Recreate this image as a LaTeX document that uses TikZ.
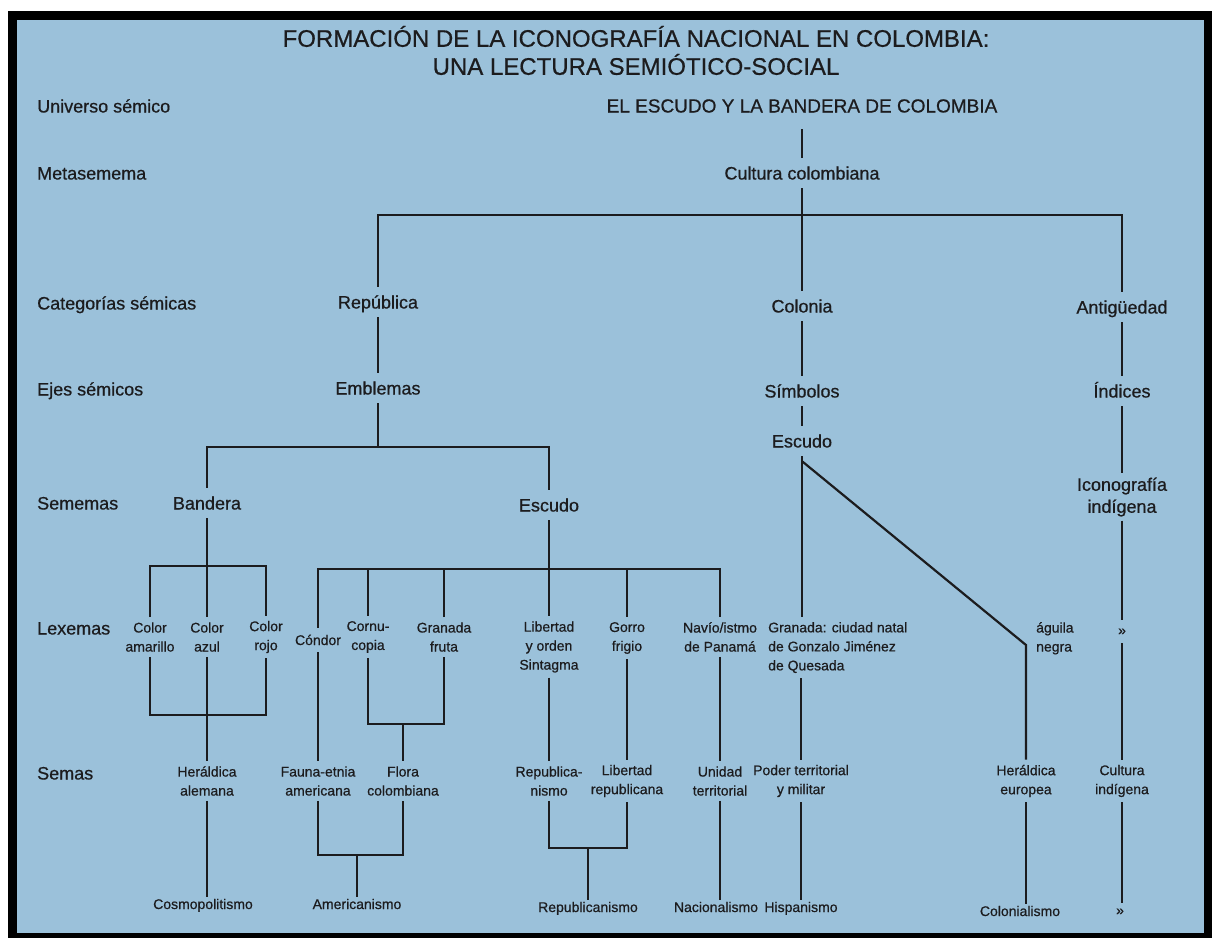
\documentclass[tikz,border=0pt]{standalone}
\usepackage{fontspec}
\setmainfont{Liberation Sans}[FakeBold=0.6]
\definecolor{fondo}{RGB}{155,193,218}
\definecolor{tinta}{RGB}{28,28,30}

\begin{document}
\begin{tikzpicture}[x=1pt,y=-1pt,
      nivel/.style={anchor=west,font=\fontsize{18}{22}\selectfont,text=tinta,
        text height=15pt,text depth=2pt,inner xsep=0pt},
      grande/.style={font=\fontsize{18}{22}\selectfont,text=tinta,
        text height=15pt,text depth=2pt,inner sep=6.5pt},
      bloque/.style={font=\fontsize{18}{22}\selectfont,text=tinta,align=center,inner sep=4pt},
      chico/.style={font=\fontsize{14}{19}\selectfont,text=tinta,align=center,inner sep=5pt},
      solo/.style={font=\fontsize{14}{19}\selectfont,text=tinta,
        text height=11.5pt,text depth=1.5pt,inner sep=5.5pt},
      hoja/.style={solo,inner sep=0pt},
      rama/.style={draw=tinta,line width=2.2pt}]

      \useasboundingbox (0,0) rectangle (1217,938);
      \fill[white] (0,0) rectangle (1217,938);
      \fill[black] (8,11) rectangle (1212,938);
      \fill[fondo] (17,20) rectangle (1204,933);

      \node[font=\fontsize{24}{28}\selectfont,text=tinta,align=center] (titulo) at (636,50.5)
        {FORMACIÓN DE LA ICONOGRAFÍA NACIONAL EN COLOMBIA:\\UNA LECTURA SEMIÓTICO-SOCIAL};

      % niveles
      \foreach \y/\t [count=\i] in {106/Universo sémico,173/Metasemema,303/Categorías sémicas,
          389/Ejes sémicos,503/Sememas,628/Lexemas,773/Semas}
        \node[nivel] (nivel\i) at (37,\y) {\t};

      \node[grande,font=\fontsize{19}{22}\selectfont] (raiz) at (802,106) {EL ESCUDO Y LA BANDERA DE COLOMBIA};
      \node[grande] (cultura) at (802,173) {Cultura colombiana};
      \coordinate (barra1) at (0,215);
      \node[grande] (republica) at (378,302) {República};
      \node[grande] (colonia) at (802,306) {Colonia};
      \node[grande] (antiguedad) at (1122,307) {Antigüedad};
      \node[grande] (emblemas) at (378,388) {Emblemas};
      \node[grande] (simbolos) at (802,391) {Símbolos};
      \node[grande] (indices) at (1122,391) {Índices};
      \node[grande] (escudoCol) at (802,441) {Escudo};
      \node[bloque] (iconografia) at (1122,497) {Iconografía\\indígena};
      \coordinate (barra2) at (0,447);
      \node[grande] (bandera) at (207,503) {Bandera};
      \node[grande] (escudoRep) at (549,505) {Escudo};

      % lexemas
      \coordinate (barra3) at (0,566);
      \coordinate (barra4) at (0,569);
      \node[chico] (amarillo) at (150,637) {Color\\amarillo};
      \node[chico] (azul) at (207,637) {Color\\azul};
      \node[chico] (rojo) at (266,637) {Color\\rojo};
      \node[solo] (condor) at (318,640) {Cóndor};
      \node[chico] (cornucopia) at (368,637) {Cornu-\\copia};
      \node[chico] (granada) at (444,637) {Granada\\fruta};
      \node[chico] (libertad) at (549,647) {Libertad\\y orden\\Sintagma};
      \node[chico] (gorro) at (627,638) {Gorro\\frigio};
      \node[chico] (navio) at (720,637) {Navío/istmo\\de Panamá};
      \node[chico,align=left,anchor=north west] (granadaCiudad) at (763,617)
        {Granada: ciudad natal\\de Gonzalo Jiménez\\de Quesada};
      \node[chico,align=left,anchor=north west] (aguila) at (1031,617) {águila\\negra};
      \node[solo,text height=7pt,text depth=0pt,inner sep=8pt] (comilla1) at (1122,631.5) {»};
      \coordinate (barra5) at (0,715);
      \coordinate (barra6) at (0,724);

      % semas
      \node[chico] (alemana) at (207,781) {Heráldica\\alemana};
      \node[chico] (fauna) at (318,781) {Fauna-etnia\\americana};
      \node[chico] (flora) at (403,781) {Flora\\colombiana};
      \node[chico] (republicanismoS) at (549,781) {Republica-\\nismo};
      \node[chico] (libertadRep) at (627,781) {Libertad\\republicana};
      \node[chico] (unidad) at (720,781) {Unidad\\territorial};
      \node[chico] (poder) at (801,781) {Poder territorial\\y militar};
      \node[chico] (europea) at (1026,781) {Heráldica\\europea};
      \node[chico] (culturaInd) at (1122,781) {Cultura\\indígena};
      \coordinate (barra7) at (0,855);
      \coordinate (barra8) at (0,848);

      \node[hoja] (cosmo) at (203,904) {Cosmopolitismo};
      \node[hoja] (americanismo) at (357,904) {Americanismo};
      \node[hoja] (republicanismo) at (588,907) {Republicanismo};
      \node[hoja] (nacionalismo) at (716,907) {Nacionalismo};
      \node[hoja] (hispanismo) at (801,907) {Hispanismo};
      \node[hoja] (colonialismo) at (1020,911) {Colonialismo};
      \node[hoja] (comilla2) at (1120,910) {»};

      % ramas superiores
      \draw[rama,shorten <=8pt] (raiz) -- (cultura);
      \draw[rama] (cultura) -- (colonia);
      \draw[rama] (republica) -- (republica |- barra1) -- (antiguedad |- barra1) -- (antiguedad);
      \draw[rama] (republica) -- (emblemas);
      \draw[rama] (colonia) -- (simbolos);
      \draw[rama] (antiguedad) -- (indices);
      \draw[rama] (simbolos) -- (escudoCol);
      \draw[rama] (indices) -- (iconografia);
      \draw[rama] (emblemas) -- (emblemas |- barra2);
      \draw[rama] (bandera) -- (bandera |- barra2) -- (escudoRep |- barra2) -- (escudoRep);

      % bandera
      \draw[rama] (bandera) -- (azul);
      \draw[rama] (amarillo) -- (amarillo |- barra3) -- (rojo |- barra3) -- (rojo);
      \draw[rama] (amarillo) -- (amarillo |- barra5) -- (rojo |- barra5) -- (rojo);
      \draw[rama] (azul) -- (alemana);
      \draw[rama] (alemana) -- (alemana |- cosmo.north);

      % escudo de la republica
      \draw[rama] (escudoRep) -- (libertad);
      \draw[rama] (condor) -- (condor |- barra4) -- (navio |- barra4) -- (navio);
      \draw[rama] (cornucopia) -- (cornucopia |- barra4);
      \draw[rama] (granada) -- (granada |- barra4);
      \draw[rama] (gorro) -- (gorro |- barra4);
      \draw[rama] (condor) -- (fauna);
      \draw[rama] (cornucopia) -- (cornucopia |- barra6) -- (granada |- barra6) -- (granada);
      \draw[rama] (flora |- barra6) -- (flora);
      \draw[rama] (libertad) -- (republicanismoS);
      \draw[rama] (gorro) -- (libertadRep);
      \draw[rama] (navio) -- (unidad);
      \draw[rama] (fauna) -- (fauna |- barra7) -- (flora |- barra7) -- (flora);
      \draw[rama] (americanismo |- barra7) -- (americanismo);
      \draw[rama] (republicanismoS) -- (republicanismoS |- barra8) -- (libertadRep |- barra8) -- (libertadRep);
      \draw[rama] (republicanismo |- barra8) -- (republicanismo);
      \draw[rama] (unidad) -- (unidad |- nacionalismo.north);

      % escudo colonial
      \draw[rama] (escudoCol) -- (escudoCol |- granadaCiudad.north);
      \draw[rama] (poder |- granadaCiudad.south) -- (poder);
      \draw[rama] (poder) -- (poder |- hispanismo.north);
      \coordinate (aguilaPie) at (1026,645);
      \draw[rama] ([yshift=-5pt]escudoCol.south) -- (aguilaPie) -- (europea);
      \draw[rama] (europea) -- (europea |- colonialismo.north);

      % antiguedad
      \draw[rama] (iconografia) -- (comilla1);
      \draw[rama] (comilla1) -- (culturaInd);
      \draw[rama] (culturaInd) -- (culturaInd |- comilla2.north);
\end{tikzpicture}
\end{document}
